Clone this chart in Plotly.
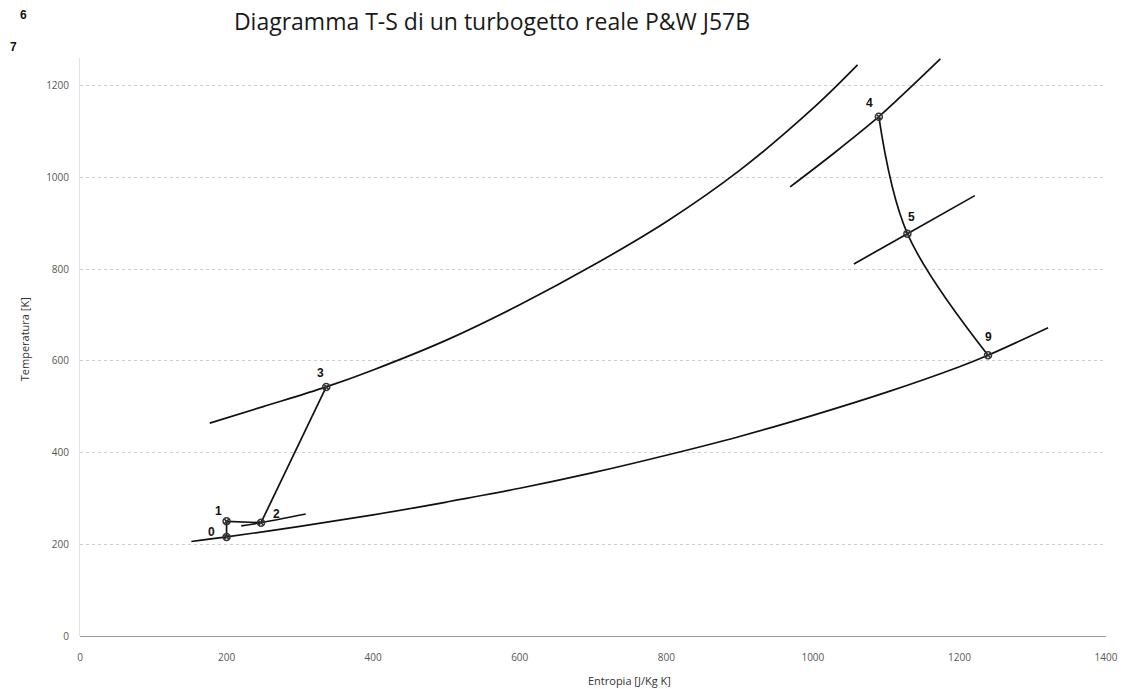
import plotly.graph_objects as go

# ---- data ----
point_labels = ["0", "1", "2", "3", "4", "5", "9"]
point_s = [200, 200, 247, 336, 1090, 1129, 1239]
point_T = [216, 250, 247, 543, 1132, 877, 612]

# isobar through 0 and 9 (ambient pressure)
iso0_s = [152, 200, 300, 400, 500, 600, 700, 800, 900, 1000, 1100, 1200, 1239, 1321]
iso0_T = [206, 216, 239, 264, 292, 322, 356, 394, 435, 481, 531, 587, 612, 672]
# isobar through 3
iso3_s = [177, 250, 336, 400, 500, 600, 700, 800, 900, 1000, 1061]
iso3_T = [464, 500, 543, 580, 645, 722, 808, 903, 1015, 1150, 1245]
# isobar through 4
iso4_s = [969, 1030, 1090, 1130, 1174]
iso4_T = [979, 1054, 1132, 1191, 1258]
# isobar through 5
iso5_s = [1056, 1129, 1221]
iso5_T = [811, 877, 960]
# short isobar through 2
iso2_s = [220, 247, 308]
iso2_T = [240, 247, 266]

x_ticks = [0, 200, 400, 600, 800, 1000, 1200, 1400]
y_ticks = [0, 200, 400, 600, 800, 1000, 1200]

# label offsets in pixels (dx, dy) -- styling only
label_shift = {"0": (-15, 5), "1": (-8, 10), "2": (15, 9), "3": (-6, 14),
               "4": (-9, 14), "5": (4, 17), "9": (0, 18)}

LINE = dict(color="#111111", width=1.7)

fig = go.Figure()

for xs, ys in [(iso0_s, iso0_T), (iso3_s, iso3_T), (iso4_s, iso4_T),
               (iso5_s, iso5_T), (iso2_s, iso2_T)]:
    fig.add_trace(go.Scatter(x=xs, y=ys, mode="lines",
                             line=dict(shape="spline", smoothing=1.0, **LINE),
                             hoverinfo="skip", showlegend=False))

idx = {k: i for i, k in enumerate(point_labels)}

def seg(keys, shape="linear"):
    fig.add_trace(go.Scatter(x=[point_s[idx[k]] for k in keys],
                             y=[point_T[idx[k]] for k in keys],
                             mode="lines", line=dict(shape=shape, **LINE),
                             hoverinfo="skip", showlegend=False))

seg(["0", "1"])
seg(["1", "2"])
seg(["2", "3"])
seg(["4", "5", "9"], shape="spline")

fig.add_trace(go.Scatter(x=point_s, y=point_T, mode="markers",
                         marker=dict(symbol="circle-x-open", size=7,
                                     color="#333333", line=dict(width=1.5, color="#333333")),
                         showlegend=False))

annotations = []
for lab, s, t in zip(point_labels, point_s, point_T):
    dx, dy = label_shift[lab]
    annotations.append(dict(x=s, y=t, text="<b>%s</b>" % lab, showarrow=False,
                            xshift=dx, yshift=dy, xref="x", yref="y",
                            font=dict(family="Liberation Sans", size=12, color="#111111")))

W, H = 1130, 689
ml, mr, mt, mb = 80, 19, 58, 53
pw, ph = W - ml - mr, H - mt - mb

def px_note(px, py, text, size, family, color, angle=0):
    return dict(x=(px - ml) / pw, y=1 - (py - mt) / ph, xref="paper", yref="paper",
                text=text, showarrow=False, textangle=angle,
                xanchor="center", yanchor="middle",
                font=dict(family=family, size=size, color=color))

annotations += [
    px_note(23, 15, "<b>6</b>", 12, "Liberation Sans", "#111111"),
    px_note(13, 47, "<b>7</b>", 12, "Liberation Sans", "#111111"),
    px_note(632, 680, "Entropia [J/Kg K]", 11, "Open Sans", "#333333"),
    px_note(24, 339, "Temperatura [K]", 11, "Open Sans", "#333333", -90),
]

fig.update_layout(
    width=W, height=H,
    margin=dict(l=ml, r=mr, t=mt, b=mb),
    paper_bgcolor="white", plot_bgcolor="white",
    title=dict(text="Diagramma T-S di un turbogetto reale P&W J57B",
               x=492 / W, xanchor="center", xref="container",
               y=1 - 22 / H, yanchor="middle", yref="container",
               font=dict(family="Open Sans", size=23, color="#1a1a1a")),
    xaxis=dict(range=[0, 1400], tickvals=x_ticks, showgrid=False, zeroline=False,
               showline=False, ticks="", tickfont=dict(family="Open Sans", size=10, color="#555555"),
               ticklabelstandoff=14, fixedrange=True),
    yaxis=dict(range=[0, 1260], tickvals=y_ticks, showgrid=True, gridcolor="#cfcfcf",
               griddash="dot", gridwidth=1, zeroline=True, zerolinecolor="#9a9a9a",
               zerolinewidth=1, showline=True, linecolor="#e2e2e2", linewidth=1,
               ticks="", tickfont=dict(family="Open Sans", size=10, color="#555555"),
               ticklabelstandoff=8, fixedrange=True),
    annotations=annotations,
    showlegend=False,
)

fig.write_html("out.html")
